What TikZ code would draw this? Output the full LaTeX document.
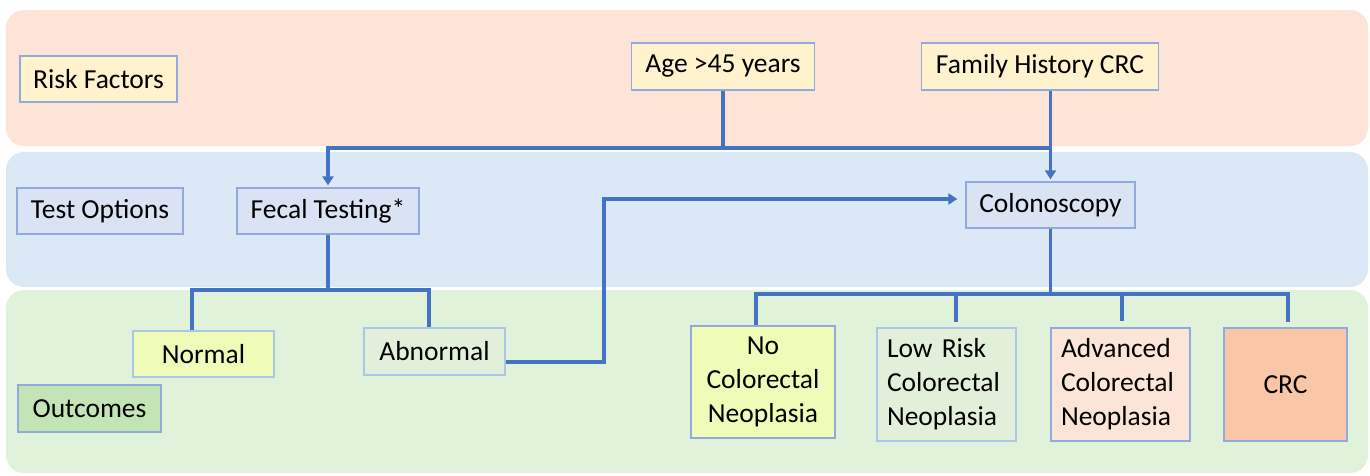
\documentclass[tikz,border=0pt]{standalone}
\usepackage{fontspec}
\setmainfont{Carlito}
\usetikzlibrary{arrows.meta}
\definecolor{bandA}{HTML}{FDE4D6}
\definecolor{bandB}{HTML}{DBE9F7}
\definecolor{bandC}{HTML}{E1F2DA}
\definecolor{cream}{HTML}{FFF2CC}
\definecolor{lav}{HTML}{DAE3F3}
\definecolor{lime}{HTML}{EEFCB8}
\definecolor{pale}{HTML}{E2F0DA}
\definecolor{outc}{HTML}{C3E5B6}
\definecolor{advc}{HTML}{FCE4D6}
\definecolor{crcc}{HTML}{F9C6A6}
\definecolor{conn}{HTML}{4472C4}
\definecolor{edgeA}{HTML}{8FAADC}
\definecolor{edgeB}{HTML}{A8C8E4}
\tikzset{
  box/.style={draw=edgeA, line width=1.3pt, inner sep=0pt, font=\fontsize{27.5}{34}\selectfont, text=black},
  conline/.style={draw=conn, line width=3.2pt},
  arrowline/.style={conline, -{Triangle[width=11pt,length=9pt]}},
}
\begin{document}
\begin{tikzpicture}[x=1pt,y=-1pt]
\useasboundingbox (0,0) rectangle (1370,475);
\fill[white] (0,0) rectangle (1370,475);
% bands
\fill[bandA, rounded corners=18pt] (6,10) rectangle (1368,146);
\fill[bandB, rounded corners=18pt] (6,152) rectangle (1368,287);
\fill[bandC, rounded corners=18pt] (6,290) rectangle (1368,473);
% nodes
\node[box, fill=cream, minimum width=157pt, minimum height=46pt] (risk) at (98.5,79) {Risk Factors};
\node[box, fill=cream, minimum width=183pt, minimum height=47pt] (age) at (723,66.5) {Age >45 years};
\node[box, fill=cream, minimum width=237pt, minimum height=47pt] (family) at (1040,66.5) {Family History CRC};
\node[box, fill=lav, minimum width=166pt, minimum height=46pt] (testopt) at (100,211) {Test Options};
\node[box, fill=lav, minimum width=182pt, minimum height=46pt] (fecal) at (328,211) {Fecal Testing*};
\node[box, fill=lav, minimum width=169pt, minimum height=46pt] (colon) at (1050.5,205) {Colonoscopy};
\node[box, fill=lime, draw=edgeB, minimum width=141pt, minimum height=46pt] (normal) at (203.5,354) {Normal};
\node[box, fill=pale, draw=edgeB, minimum width=141pt, minimum height=47pt] (abnormal) at (434.5,351.5) {Abnormal};
\node[box, fill=outc, minimum width=143pt, minimum height=47pt] (outcomes) at (89.5,408.5) {Outcomes};
\node[box, fill=lime, minimum width=144pt, minimum height=112pt, align=center] (nocrc) at (763,382) {No\\Colorectal\\Neoplasia};
\node[box, fill=pale, draw=edgeB, inner xsep=10pt, text width=119pt, minimum height=113pt, align=left] (low) at (946.5,384.5) {Low Risk\\Colorectal\\Neoplasia};
\node[box, fill=advc, inner xsep=10pt, text width=119pt, minimum height=113pt, align=left] (adv) at (1120.5,384.5) {Advanced\\Colorectal\\Neoplasia};
\node[box, fill=crcc, minimum width=123pt, minimum height=113pt] (crc) at (1285.5,384.5) {CRC};
% junctions
\coordinate (jt) at (1050.5,148);
\coordinate (jf) at (328,290);
\coordinate (jc) at (1050.5,294);
\coordinate (jb) at (604,362);
% connectors
\draw[conline] (age.south) -- (age.south |- jt);
\draw[arrowline, shorten >=2pt] (jt) -| (fecal.north);
\draw[arrowline, shorten >=2pt] (family.south -| colon.north) -- (colon.north);
\draw[conline] (fecal.south) -- (jf);
\draw[conline] ([xshift=-11.5pt]normal.north) |- (jf) -| ([xshift=-5.5pt]abnormal.north);
\draw[arrowline, shorten >=8pt] ([yshift=-10.5pt]abnormal.east) -| ([yshift=6pt]colon.west -| jb) -- ([yshift=6pt]colon.west);
\draw[conline] (colon.south) -- (jc);
\draw[conline] ([xshift=-7pt]nocrc.north) |- ([xshift=2.5pt]crc.north |- jc) -- ([xshift=2.5pt,yshift=5pt]crc.north);
\draw[conline] ([xshift=9.5pt]low.north |- jc) -- ([xshift=9.5pt,yshift=5pt]low.north);
\draw[conline] ([xshift=1.5pt]adv.north |- jc) -- ([xshift=1.5pt,yshift=6pt]adv.north);
\end{tikzpicture}
\end{document}
